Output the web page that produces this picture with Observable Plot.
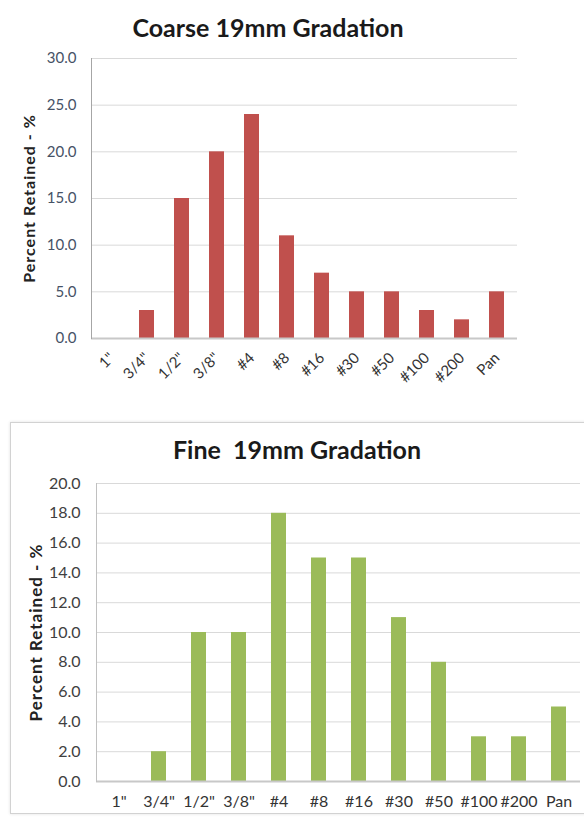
<!DOCTYPE html>
<html>
<head>
<meta charset="utf-8">
<script src="https://cdn.jsdelivr.net/npm/d3@7"></script>
<script src="https://cdn.jsdelivr.net/npm/@observablehq/plot@0.6"></script>
<style>
  body { margin: 0; background: #fff; }
  #wrap { position: relative; width: 584px; height: 820px; overflow: hidden; font-family: Lato, "Open Sans", sans-serif; background:#fff; }
  .title { position: absolute; font-weight: bold; font-size: 25px; color: #1a1a1a; text-align: center; white-space: pre; width: 400px; }
  #box { position: absolute; left: 10px; top: 422px; width: 620px; height: 390px; border: 1px solid #d2d2d2; box-shadow: 0 0 3px rgba(0,0,0,0.12); }
  .chart { position: absolute; left: 0; }
  .chart svg { max-width: none !important; }
</style>
</head>
<body>
<div id="wrap">
  <div class="title" id="t1" style="left:68px; top:12px;">Coarse 19mm Gradation</div>
  <div id="box"></div>
  <div class="title" id="t2" style="left:97px; top:434px;">Fine  19mm Gradation</div>
  <div class="chart" id="c1" style="top:0px;"></div>
  <div class="chart" id="c2" style="top:470px;"></div>
</div>
<script>
const sieves = ['1"', '3/4"', '1/2"', '3/8"', '#4', '#8', '#16', '#30', '#50', '#100', '#200', 'Pan'];
const coarseRetained = [0, 3, 15, 20, 24, 11, 7, 5, 5, 3, 2, 5];
const fineRetained = [0, 2, 10, 10, 18, 15, 15, 11, 8, 3, 3, 5];
const coarseTicks = [0, 5, 10, 15, 20, 25, 30];
const fineTicks = [0, 2, 4, 6, 8, 10, 12, 14, 16, 18, 20];
const yLabel = "Percent Retained - %";

const coarseData = sieves.map((s, i) => ({sieve: s, value: coarseRetained[i]}));
const fineData = sieves.map((s, i) => ({sieve: s, value: fineRetained[i]}));
const fmt = d3.format(".1f");

const coarseChart = Plot.plot({
  width: 584, height: 400,
  marginTop: 58, marginBottom: 62, marginLeft: 91, marginRight: 67,
  style: {fontFamily: "Lato, 'Open Sans', sans-serif", fontSize: "12px", color: "#404040", background: "transparent"},
  x: {domain: sieves, paddingInner: 0.58, paddingOuter: 0.29},
  y: {domain: [0, 30]},
  marks: [
    Plot.gridY(coarseTicks, {stroke: "#d9d9d9", strokeOpacity: 1}),
    Plot.barY(coarseData, {x: "sieve", y: "value", fill: "#C0504D"}),
    Plot.ruleY([0], {stroke: "#c8c8c8", strokeWidth: 2}),
    Plot.frame({anchor: "left", stroke: "#a6a6a6"}),
    Plot.axisY(coarseTicks, {tickSize: 0, tickPadding: 15, tickFormat: fmt, fill: "#465266",
      label: yLabel, labelAnchor: "center", labelArrow: "none", labelOffset: 68, fontSize: 15}),
    Plot.axisX({tickSize: 0, tickRotate: -45, tickPadding: 17, label: null, fill: "#333", fontSize: 15})
  ]
});
document.getElementById("c1").appendChild(coarseChart);

const fineChart = Plot.plot({
  width: 600, height: 340,
  marginTop: 13, marginBottom: 29, marginLeft: 96, marginRight: 20,
  style: {fontFamily: "Lato, 'Open Sans', sans-serif", fontSize: "13px", color: "#404040", background: "transparent"},
  x: {domain: sieves, paddingInner: 0.63, paddingOuter: 0.315},
  y: {domain: [0, 20]},
  marks: [
    Plot.gridY(fineTicks, {stroke: "#d9d9d9", strokeOpacity: 1}),
    Plot.barY(fineData, {x: "sieve", y: "value", fill: "#9BBB59"}),
    Plot.ruleY([0], {stroke: "#c8c8c8", strokeWidth: 2}),
    Plot.frame({anchor: "left", stroke: "#c0c0c0"}),
    Plot.axisY(fineTicks, {tickSize: 0, tickPadding: 16, tickFormat: fmt, fill: "#404040",
      label: yLabel, labelAnchor: "center", labelArrow: "none", labelOffset: 67, fontSize: 16}),
    Plot.axisX({tickSize: 0, tickPadding: 14, label: null, fill: "#333", fontSize: 16})
  ]
});
document.getElementById("c2").appendChild(fineChart);

// Bold, slightly larger y-axis titles
const labelSizes = [{size: 16, spacing: 1}, {size: 17, spacing: 1}];
document.querySelectorAll(".chart svg").forEach((svg, i) => {
  svg.querySelectorAll("[aria-label='y-axis label']").forEach(g => {
    g.setAttribute("font-weight", "bold");
    g.setAttribute("font-size", labelSizes[i].size);
    g.setAttribute("fill", "#222");
    g.querySelectorAll("text").forEach(t => {
      t.setAttribute("font-weight", "bold");
      t.setAttribute("font-size", labelSizes[i].size);
      t.style.letterSpacing = labelSizes[i].spacing + "px";
    });
  });
});
</script>
</body>
</html>
